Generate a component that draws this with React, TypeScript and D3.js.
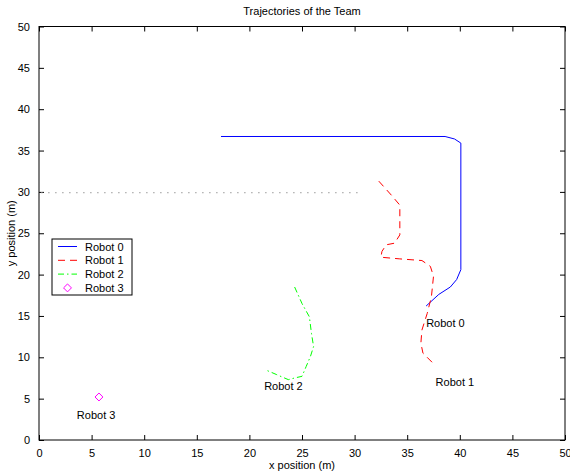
import React, { useEffect, useRef } from "react";
import * as d3 from "d3";

// trajectories, [x, y] in metres
const robot0: [number, number][] = [
  [17.3, 36.7], [38.6, 36.7], [39.5, 36.4], [40.1, 35.9], [40.1, 20.6],
  [39.7, 19.4], [39.1, 18.5], [38.0, 17.6], [36.8, 16.2],
];
const robot1: [number, number][] = [
  [32.3, 31.3], [33.5, 29.6], [34.3, 28.4], [34.3, 24.8], [33.8, 23.8],
  [33.0, 23.6], [32.6, 22.8], [32.5, 22.1], [34.3, 21.9], [36.4, 21.7],
  [37.2, 21.0], [37.5, 19.8], [37.3, 17.3], [36.9, 15.3], [36.4, 13.3],
  [36.3, 11.7], [36.5, 10.5], [37.6, 9.1],
];
const robot2: [number, number][] = [
  [24.3, 18.5], [25.0, 16.5], [25.7, 14.9], [25.9, 12.9], [26.1, 11.3],
  [25.8, 10.1], [25.4, 8.9], [25.0, 7.7], [24.3, 7.5], [23.7, 7.3],
  [22.6, 7.9], [21.5, 8.5],
];
const robot3: [number, number][] = [[5.7, 5.2]];
const wall: [number, number][] = [[0.2, 29.9], [30.8, 29.9]];

const robotNames = ["Robot 0", "Robot 1", "Robot 2", "Robot 3"];
// where the names were written, in data units
const nameSpots: [number, number][] = [[36.8, 13.7], [37.7, 6.5], [21.4, 6.1], [3.6, 2.5]];
const xTicks = [0, 5, 10, 15, 20, 25, 30, 35, 40, 45, 50];
const yTicks = [0, 5, 10, 15, 20, 25, 30, 35, 40, 45, 50];

const App = () => {
  const node = useRef<SVGSVGElement>(null);

  useEffect(() => {
    const svg = d3.select(node.current);
    svg.selectAll("*").remove();
    const left = 39, right = 565, top = 26.5, bottom = 440;
    const x = d3.scaleLinear().domain([0, 50]).range([left, right]);
    const y = d3.scaleLinear().domain([0, 50]).range([bottom, top]);
    const font = "'Liberation Sans', Arial, sans-serif";

    const g = svg.append("g").attr("font-family", font).attr("font-size", 11);

    // axes with inward ticks on all four sides
    const ax = (sel: any, axis: any) => {
      sel.call(axis);
      sel.select(".domain").remove();
      sel.selectAll(".tick line").attr("stroke", "#000");
      sel.selectAll(".tick text").attr("font-family", font).attr("font-size", 11).attr("fill", "#000");
    };
    ax(g.append("g").attr("transform", `translate(0,${bottom})`),
      d3.axisBottom(x).tickValues(xTicks).tickSizeInner(-5).tickPadding(9));
    ax(g.append("g").attr("transform", `translate(0,${top})`),
      d3.axisTop(x).tickValues(xTicks).tickSizeInner(-5).tickFormat(() => ""));
    ax(g.append("g").attr("transform", `translate(${left},0)`),
      d3.axisLeft(y).tickValues(yTicks).tickSizeInner(-5).tickPadding(9));
    ax(g.append("g").attr("transform", `translate(${right},0)`),
      d3.axisRight(y).tickValues(yTicks).tickSizeInner(-5).tickFormat(() => ""));

    g.append("rect").attr("x", left).attr("y", top)
      .attr("width", right - left).attr("height", bottom - top)
      .attr("fill", "none").attr("stroke", "#000");

    const line = d3.line<[number, number]>().x(d => x(d[0])).y(d => y(d[1]));

    g.append("path").datum(wall).attr("d", line).attr("fill", "none")
      .attr("stroke", "#999").attr("stroke-dasharray", "1.5,5.5");

    const styles = [
      { c: "#0000ff", dash: null },
      { c: "#ff0000", dash: "7,5" },
      { c: "#00ff00", dash: "6,3,1.5,3" },
    ];
    [robot0, robot1, robot2].forEach((r, i) => {
      g.append("path").datum(r).attr("d", line).attr("fill", "none")
        .attr("stroke", styles[i].c).attr("stroke-dasharray", styles[i].dash);
    });

    const diamond = d3.symbol().type(d3.symbolDiamond2).size(40);
    g.selectAll(".r3").data(robot3).enter().append("path")
      .attr("transform", d => `translate(${x(d[0])},${y(d[1])})`)
      .attr("d", diamond).attr("fill", "none").attr("stroke", "#ff00ff");

    g.selectAll(".name").data(nameSpots).enter().append("text")
      .attr("x", d => x(d[0])).attr("y", d => y(d[1]))
      .text((d, i) => robotNames[i]);

    g.append("text").attr("x", (left + right) / 2).attr("y", 15)
      .attr("text-anchor", "middle").text("Trajectories of the Team");
    g.append("text").attr("x", (left + right) / 2).attr("y", 469)
      .attr("text-anchor", "middle").text("x position (m)");
    g.append("text").attr("transform", `translate(15,${(top + bottom) / 2}) rotate(-90)`)
      .attr("text-anchor", "middle").text("y position (m)");

    // legend
    const lg = g.append("g").attr("transform", "translate(52,239)");
    lg.append("rect").attr("width", 80).attr("height", 56)
      .attr("fill", "#fff").attr("stroke", "#000");
    robotNames.forEach((name, i) => {
      const ly = 7.5 + i * 13.8;
      if (i < 3) {
        lg.append("line").attr("x1", 6).attr("x2", 25).attr("y1", ly).attr("y2", ly)
          .attr("stroke", styles[i].c).attr("stroke-dasharray", styles[i].dash);
      } else {
        lg.append("path").attr("transform", `translate(15.5,${ly})`)
          .attr("d", diamond).attr("fill", "none").attr("stroke", "#ff00ff");
      }
      lg.append("text").attr("x", 33).attr("y", ly + 4).text(name);
    });
  }, []);

  return (
    <svg ref={node} width={570} height={473}
      style={{ position: "absolute", left: 0, top: 0, background: "#fff" }} />
  );
};

export default App;
